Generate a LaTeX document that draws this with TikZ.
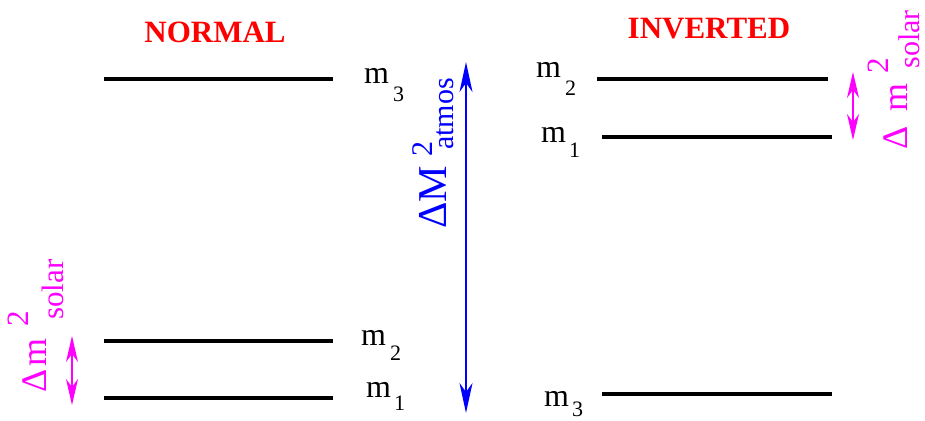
\documentclass[tikz,border=0pt]{standalone}
\usepackage{fontspec}
\setmainfont{Liberation Serif}
\usetikzlibrary{arrows.meta}
\definecolor{mag}{RGB}{255,0,255}
\begin{document}
\begin{tikzpicture}[x=1pt,y=-1pt,
  level/.style={line width=3.2pt, black},
  mlab/.style={anchor=base west, inner sep=0, font=\fontsize{32}{32}\selectfont},
  msub/.style={anchor=base west, inner sep=0, font=\fontsize{22}{22}\selectfont},
  ttl/.style={anchor=base, inner sep=0, text=red, font=\fontsize{31}{31}\selectfont\bfseries},
  rotlab/.style={rotate=90, anchor=base west, inner sep=0},
  bluearrow/.style={blue, line width=2pt, {Stealth[length=30pt,width=13pt,inset=9pt]}-{Stealth[length=30pt,width=13pt,inset=9pt]}},
  magarrow/.style={mag, line width=1.5pt, {Stealth[length=26pt,width=12pt,inset=8pt]}-{Stealth[length=26pt,width=12pt,inset=8pt]}}
]
\useasboundingbox (0,0) rectangle (925,420);

% titles
\node[ttl] (tnormal) at (215,43) {NORMAL};
\node[ttl] (tinv) at (709,39) {INVERTED};

% normal levels
\draw[level] (104,79) coordinate (n3a) -- (333,79) coordinate (n3b);
\draw[level] (104,341) coordinate (n2a) -- (333,341) coordinate (n2b);
\draw[level] (104,398) coordinate (n1a) -- (333,398) coordinate (n1b);

% inverted levels
\draw[level] (597,79) coordinate (i2a) -- (828,79) coordinate (i2b);
\draw[level] (602,137) coordinate (i1a) -- (832,137) coordinate (i1b);
\draw[level] (602,394) coordinate (i3a) -- (832,394) coordinate (i3b);

% normal labels
\node[mlab] (ln3) at (364,83) {m};
\node[msub] (ln3s) at (393,101) {3};
\node[mlab] (ln2) at (361,345) {m};
\node[msub] (ln2s) at (390,360) {2};
\node[mlab] (ln1) at (366,397) {m};
\node[msub] (ln1s) at (394,410) {1};

% inverted labels
\node[mlab] (li2) at (536,77) {m};
\node[msub] (li2s) at (565,95) {2};
\node[mlab] (li1) at (541,142) {m};
\node[msub] (li1s) at (569,157) {1};
\node[mlab] (li3) at (544,406) {m};
\node[msub] (li3s) at (572,416) {3};

% atmospheric arrow
\coordinate (atop) at (466,62);
\coordinate (abot) at (466,413);
\draw[bluearrow] (atop) -- (abot);
\node[rotlab, text=blue, font=\fontsize{41}{41}\selectfont] (latm) at (446,229)
  {ΔM\hspace{9pt}\rlap{\raisebox{14pt}{\fontsize{30}{30}\selectfont 2}}\hspace{7pt}\raisebox{-7pt}{\fontsize{30}{30}\selectfont atmos}};

% solar arrows
\coordinate (lstop) at (72,336);
\coordinate (lsbot) at (72,405);
\draw[magarrow] (lstop) -- (lsbot);
\coordinate (rstop) at (853,72);
\coordinate (rsbot) at (853,140);
\draw[magarrow] (rstop) -- (rsbot);

\node[rotlab, text=mag, font=\fontsize{36}{36}\selectfont] (lsol) at (46,393)
  {Δ\hspace{3pt}m\hspace{12pt}\rlap{\raisebox{18pt}{\fontsize{31}{31}\selectfont 2}}\hspace{7pt}\raisebox{-17pt}{\fontsize{31}{31}\selectfont solar}};
\node[rotlab, text=mag, font=\fontsize{36}{36}\selectfont] (rsol) at (907,150)
  {Δ\hspace{15pt}m\hspace{10pt}\rlap{\raisebox{19pt}{\fontsize{31}{31}\selectfont 2}}\hspace{5pt}\raisebox{-12pt}{\fontsize{30}{30}\selectfont solar}};
\end{tikzpicture}
\end{document}
